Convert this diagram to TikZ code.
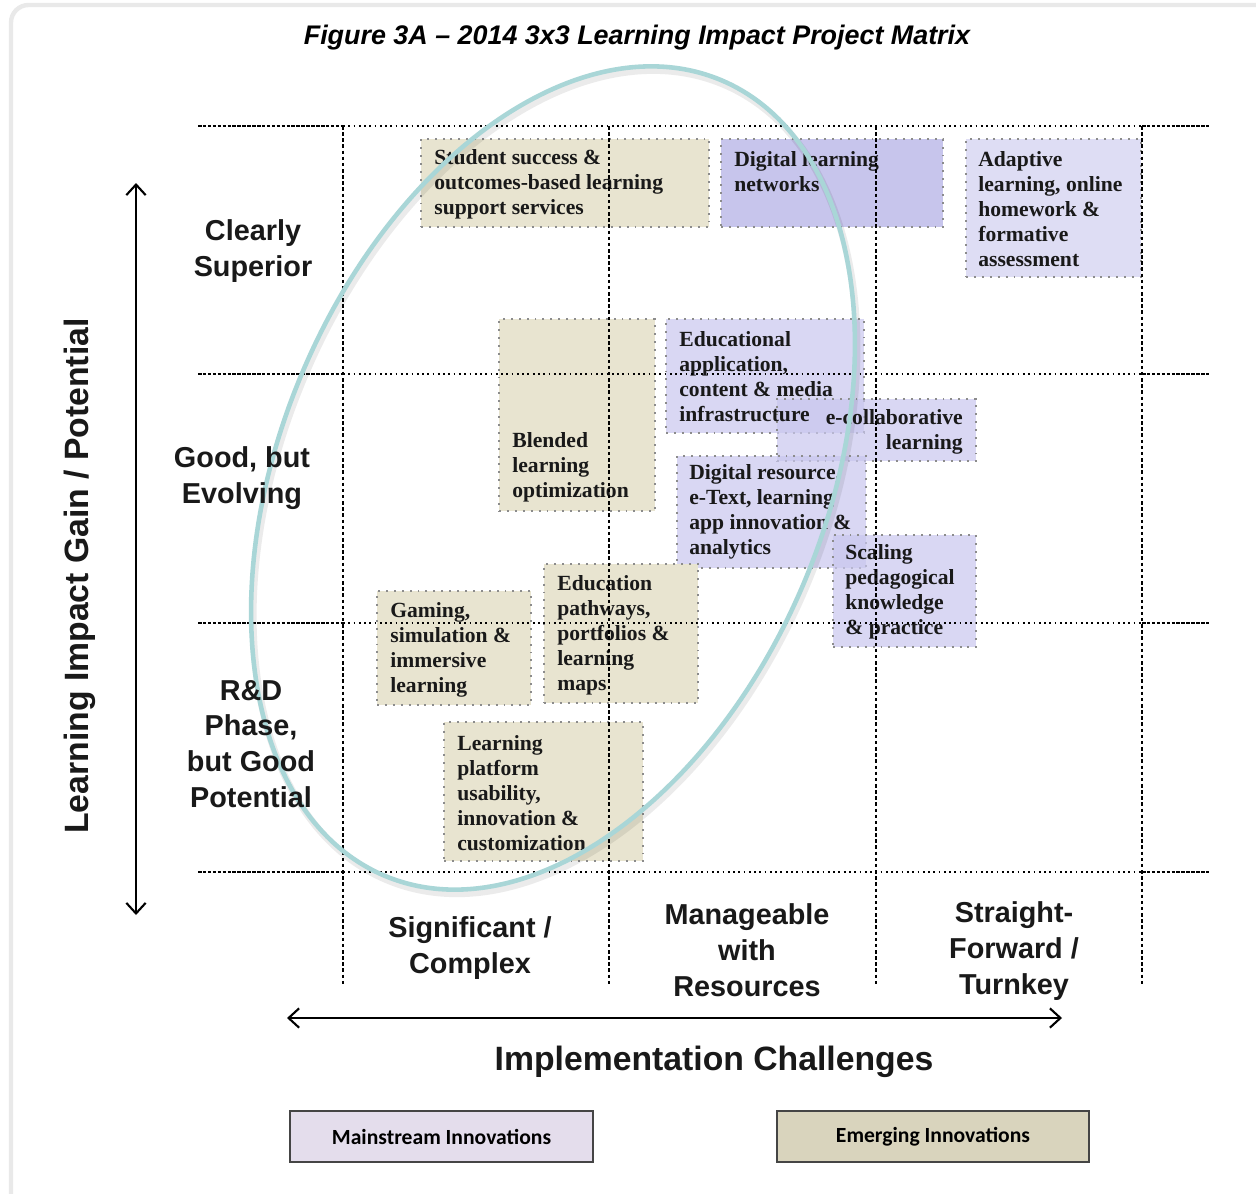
\documentclass[tikz,border=0pt]{standalone}
\usepackage{fontspec}
\setmainfont{Liberation Serif}
\newfontfamily\arialf{Liberation Sans}
\newfontfamily\calibf{Carlito}
\usetikzlibrary{arrows.meta}
\definecolor{beigefill}{HTML}{E8E4D0}
\definecolor{lavfill}{HTML}{C9C7EE}
\definecolor{lavdark}{HTML}{C7C5EC}
\definecolor{boxgray}{HTML}{8C8C8C}
\definecolor{ellcol}{HTML}{A9D6D7}
\definecolor{framegray}{HTML}{E9E9E9}
\definecolor{legM}{HTML}{E4DDEC}
\definecolor{legE}{HTML}{D9D4BD}
\definecolor{legborder}{HTML}{454545}
\tikzset{
  boxbase/.style={rectangle, inner sep=0pt, draw=boxgray, line width=1.2pt,
    dash pattern=on 1.1pt off 3.4pt, anchor=north west},
  ebox/.style={boxbase, fill=beigefill},
  mbox/.style={boxbase, fill=lavfill, fill opacity=0.7},
  mboxdark/.style={boxbase, fill=lavdark},
  mboxlight/.style={boxbase, fill=lavfill, fill opacity=0.6},
  btxt/.style={inner sep=0pt, anchor=west, align=left, text=black!90,
    font=\fontsize{12.3}{14.2}\selectfont\bfseries},
  rowlab/.style={inner sep=0pt, align=center, text=black!90,
    font=\arialf\fontsize{16.4}{20.4}\selectfont\bfseries},
  axlab/.style={inner sep=0pt, text=black!90,
    font=\arialf\fontsize{19.2}{22}\selectfont\bfseries},
  gdot/.style={black, line width=1.1pt, dash pattern=on 1pt off 2pt},
  gdash/.style={black, line width=0.8pt, dash pattern=on 2pt off 0.8pt},
  vdash/.style={black, line width=0.9pt, dash pattern=on 2pt off 1.5pt},
  legbox/.style={rectangle, draw=legborder, line width=1.3pt, inner sep=0pt,
    font=\calibf\fontsize{12.3}{14}\selectfont\bfseries},
  axarrow/.style={black, line width=1.2pt, {Straight Barb[length=6pt,width=11pt]}-{Straight Barb[length=6pt,width=11pt]}}
}
\begin{document}
\begin{tikzpicture}[x=0.02cm, y=-0.02cm]
\useasboundingbox (0,0) rectangle (1256,1193);
\fill[white] (0,0) rectangle (1256,1193);
% frame
\draw[framegray, line width=2.5pt, rounded corners=10pt] (11,1200) -- (11,5) -- (1262,5);

% title
\node[inner sep=0pt, font=\arialf\fontsize{15.3}{18}\selectfont\bfseries\itshape] (title) at (637,38)
  {Figure 3A \textendash{} 2014 3x3 Learning Impact Project Matrix};

% boxes
\node[ebox, minimum width=5.76cm, minimum height=1.76cm] (b1) at (420,138) {};
\node[mboxdark, minimum width=4.44cm, minimum height=1.76cm] (b2) at (720,138) {};
\node[mboxlight, minimum width=3.5cm, minimum height=2.76cm] (b3) at (965,138) {};
\node[ebox, minimum width=3.12cm, minimum height=3.84cm] (b4) at (498,318) {};
\node[mbox, minimum width=3.96cm, minimum height=2.28cm] (b5) at (665,318) {};
\node[mbox, minimum width=3.98cm, minimum height=1.24cm] (b6) at (776,398) {};
\node[mbox, minimum width=3.78cm, minimum height=2.24cm] (b7) at (676,455) {};
\node[mbox, minimum width=2.86cm, minimum height=2.24cm] (b8) at (832,534) {};
\node[ebox, minimum width=3.08cm, minimum height=2.28cm] (b9) at (376,590) {};
\node[ebox, minimum width=3.08cm, minimum height=2.78cm] (b10) at (543,563) {};
\node[ebox, minimum width=3.98cm, minimum height=2.78cm] (b11) at (443,721) {};

% box texts
\node[btxt] (t1) at (434,184) {Student success \&\\outcomes-based learning\\support services};
\node[btxt] (t2) at (734,172) {Digital learning\\networks};
\node[btxt] (t3) at (978,209) {Adaptive\\learning, online\\homework \&\\formative\\assessment};
\node[btxt] (t4) at (512,467) {Blended\\learning\\optimization};
\node[btxt] (t5) at (679,377) {Educational\\application,\\content \& media\\infrastructure};
\node[btxt, anchor=east, align=right] (t6) at (963,432) {e-collaborative\\learning};
\node[btxt] (t7) at (689,512) {Digital resource,\\e-Text, learning\\app innovation \&\\analytics};
\node[btxt] (t8) at (845,592) {Scaling\\pedagogical\\knowledge\\\& practice};
\node[btxt] (t9) at (390,650) {Gaming,\\simulation \&\\immersive\\learning};
\node[btxt] (t10) at (557,635) {Education\\pathways,\\portfolios \&\\learning\\maps};
\node[btxt] (t11) at (457,793) {Learning\\platform\\usability,\\innovation \&\\customization};

% grid
\foreach \yy in {126,374,623,872} {
  \draw[gdash] (198,\yy) -- (343,\yy);
  \draw[gdot] (343,\yy) -- (1142,\yy);
  \draw[gdash] (1142,\yy) -- (1210,\yy);
}
\foreach \xx in {343,609,876,1142} \draw[vdash] (\xx,126) -- (\xx,985);

% ellipse
\draw[black, opacity=0.08, line width=4pt, rotate around={-23:(555,482)}]
  (555,482) ellipse [x radius=5.44cm, y radius=8.64cm];
\draw[ellcol, line width=2.6pt, rotate around={-23:(553,478)}]
  (553,478) ellipse [x radius=5.44cm, y radius=8.64cm];

% row labels
\node[rowlab] (r1) at (253,251) {Clearly\\Superior};
\node[rowlab] (r2) at (242,478) {Good, but\\Evolving};
\node[rowlab] (r3) at (251,744) {R\&D\\Phase,\\but Good\\Potential};

% column labels
\node[rowlab] (c1) at (470,948) {Significant /\\Complex};
\node[rowlab] (c2) at (747,950) {Manageable\\with\\Resources};
\node[rowlab] (c3) at (1014,951) {Straight-\\Forward /\\Turnkey};

% axes
\coordinate (vtop) at (136,183);
\coordinate (vbot) at (136,915);
\draw[axarrow] (vtop) -- (vbot);
\node[axlab, rotate=90] (ylab) at (80,576) {Learning Impact Gain / Potential};
\coordinate (hleft) at (287,1018);
\coordinate (hright) at (1062,1018);
\draw[axarrow] (hleft) -- (hright);
\node[axlab] (xlab) at (714,1062) {Implementation Challenges};

% legend
\node[legbox, fill=legM, minimum width=6.06cm, minimum height=1.02cm] (legMain) at (441.5,1136.5) {Mainstream Innovations};
\node[legbox, fill=legE, minimum width=6.24cm, minimum height=1.02cm] (legEmer) at (933,1136.5) {Emerging Innovations};
\end{tikzpicture}
\end{document}
